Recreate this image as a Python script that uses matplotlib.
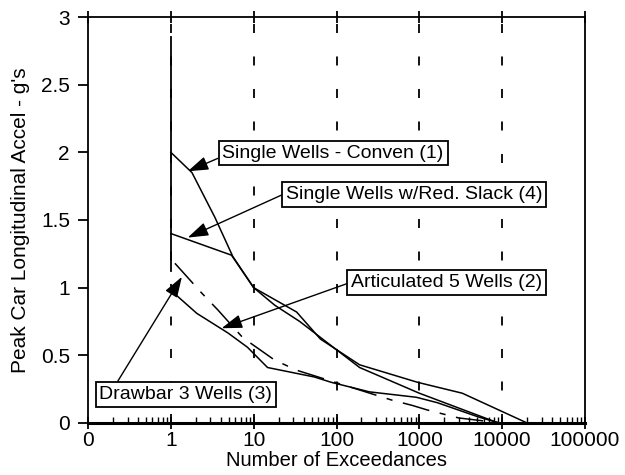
import matplotlib
matplotlib.use("Agg")
from matplotlib import pyplot as plt
from matplotlib.ticker import FixedLocator, FixedFormatter, LogLocator, NullFormatter

plt.rcParams['font.family'] = ['Liberation Sans', 'DejaVu Sans']

# x ticks (0 sits one decade below 1 on the log axis)
tick_pos = [0.1, 1, 10, 100, 1000, 10000, 100000]
tick_lab = ['0', '1', '10', '100', '1000', '10000', '100000']
grid_x = [1, 10, 100, 1000, 10000]

# Single Wells - Conven (1)
conven_x = [1, 1.8, 3.4, 5.6, 10, 18, 36, 190, 1000, 9000]
conven_y = [2.0, 1.85, 1.52, 1.23, 1.0, 0.87, 0.75, 0.41, 0.22, 0.0]

# Single Wells w/Red. Slack (4)
slack_x = [1, 5.4, 10, 33, 64, 190, 960, 3300, 20000]
slack_y = [1.4, 1.24, 1.0, 0.82, 0.62, 0.43, 0.30, 0.22, 0.0]

# Articulated 5 Wells (2)
artic_x = [1, 2.06, 4.9, 8.4, 14.7, 54, 87, 250, 920, 1650, 5200, 9200]
artic_y = [0.98, 0.81, 0.665, 0.56, 0.41, 0.34, 0.30, 0.23, 0.19, 0.15, 0.044, 0.0]

# Drawbar 3 Wells (3)
drawbar_x = [1.12, 2.36, 3.7, 7.4, 17.9, 33, 460, 820, 1250, 3000, 9700]
drawbar_y = [1.18, 0.96, 0.835, 0.63, 0.465, 0.39, 0.17, 0.13, 0.096, 0.037, 0.0]

# vertical spike at x = 1
spike_x = [1, 1]
spike_y = [1.12, 2.85]


def label(ax, text, tip, pos, relpos):
    ax.annotate(text, xy=tip, xycoords='data', xytext=pos, textcoords='axes fraction',
                ha='center', va='center', fontsize=14,
                bbox=dict(boxstyle='square,pad=0.2', fc='white', ec='black', lw=1.3),
                arrowprops=dict(arrowstyle='-|>,head_length=0.9,head_width=0.3',
                                mutation_scale=14, color='black', lw=1.0,
                                shrinkA=0, shrinkB=0, relpos=relpos))


fig = plt.figure(figsize=(6.25, 4.75), dpi=100)
ax = fig.add_axes([0.1408, 0.1095, 0.7952, 0.8547])

ax.set_xscale('log')
ax.set_xlim(0.1, 100000)
ax.set_ylim(0, 3)

for gx in grid_x:
    ax.plot([gx, gx], [0, 3], color='black', lw=1.3, dashes=(5, 13), zorder=1)

ax.plot(spike_x, spike_y, color='black', lw=1.3)
ax.plot(conven_x, conven_y, color='black', lw=1.1)
ax.plot(slack_x, slack_y, color='black', lw=1.1)
ax.plot(artic_x, artic_y, color='black', lw=1.1)
ax.plot(drawbar_x, drawbar_y, color='black', lw=1.1, dashes=(18, 7, 4, 7))

label(ax, 'Single Wells - Conven (1)', (1.6, 1.86), (0.493, 0.665), (0, 0.3))
label(ax, 'Single Wells w/Red. Slack (4)', (1.6, 1.37), (0.656, 0.562), (0, 0.6))
label(ax, 'Articulated 5 Wells (2)', (4.1, 0.70), (0.722, 0.347), (0, 0.5))
label(ax, 'Drawbar 3 Wells (3)', (1.36, 1.08), (0.197, 0.071), (0.09, 1))

ax.xaxis.set_major_locator(FixedLocator(tick_pos))
ax.xaxis.set_major_formatter(FixedFormatter(tick_lab))
ax.xaxis.set_minor_locator(LogLocator(base=10, subs=range(2, 10), numticks=20))
ax.xaxis.set_minor_formatter(NullFormatter())
ax.tick_params(axis='x', which='major', direction='inout', length=9, width=1.3,
               labelsize=15, pad=1, top=True)
ax.tick_params(axis='x', which='minor', direction='in', length=4, width=1.0, top=False)

ax.set_yticks([0, 0.5, 1, 1.5, 2, 2.5, 3])
ax.set_yticklabels(['0', '0.5', '1', '1.5', '2', '2.5', '3'])
ax.tick_params(axis='y', direction='out', length=7, width=1.3, labelsize=15, pad=6)

for side in ['left', 'right', 'top']:
    ax.spines[side].set_linewidth(1.3)
ax.spines['bottom'].set_linewidth(2.2)

ax.set_xlabel('Number of Exceedances', fontsize=14.5, labelpad=1)
ax.set_ylabel("Peak Car Longitudinal Accel - g's", fontsize=15, labelpad=8)

fig.savefig('out.png', dpi=100)
